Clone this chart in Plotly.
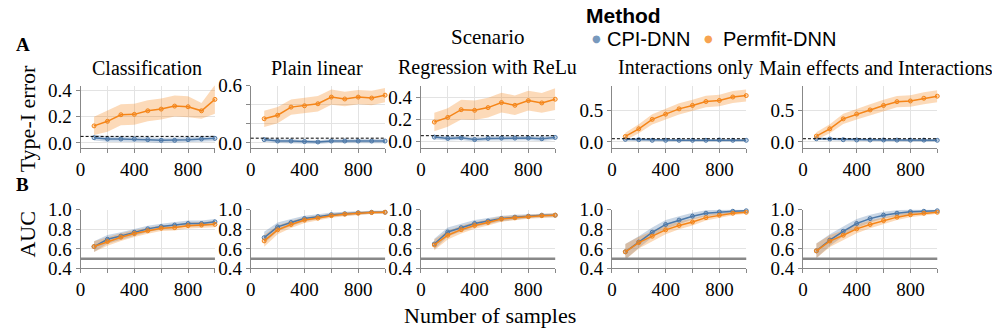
import plotly.graph_objects as go
from plotly.subplots import make_subplots

# ---------------------------------------------------------------- data
samples = [100, 200, 300, 400, 500, 600, 700, 800, 900, 1000]
scenarios = ["Classification", "Plain linear", "Regression with ReLu",
             "Interactions only", "Main effects and Interactions"]
methods = ["CPI-DNN", "Permfit-DNN"]
alpha_level = 0.05
auc_chance = 0.5

# Type-I error, mean per sample size
t1_cpi_classification = [0.040, 0.030, 0.030, 0.030, 0.025, 0.020, 0.020, 0.025, 0.030, 0.035]
t1_perm_classification = [0.130, 0.165, 0.215, 0.218, 0.245, 0.258, 0.281, 0.276, 0.245, 0.332]
t1_cpi_plain = [0.035, 0.020, 0.020, 0.015, 0.010, 0.020, 0.020, 0.020, 0.020, 0.020]
t1_perm_plain = [0.253, 0.290, 0.375, 0.389, 0.410, 0.480, 0.460, 0.480, 0.470, 0.500]
t1_cpi_relu = [0.037, 0.025, 0.030, 0.015, 0.025, 0.028, 0.028, 0.028, 0.022, 0.034]
t1_perm_relu = [0.175, 0.218, 0.289, 0.283, 0.308, 0.354, 0.329, 0.372, 0.351, 0.385]
t1_cpi_interactions = [0.040, 0.035, 0.025, 0.025, 0.025, 0.025, 0.025, 0.030, 0.025, 0.025]
t1_perm_interactions = [0.086, 0.207, 0.356, 0.439, 0.522, 0.577, 0.638, 0.655, 0.710, 0.732]
t1_cpi_main = [0.050, 0.045, 0.035, 0.030, 0.030, 0.030, 0.028, 0.028, 0.028, 0.025]
t1_perm_main = [0.092, 0.207, 0.364, 0.440, 0.505, 0.576, 0.636, 0.647, 0.690, 0.723]

# Type-I error, half-width of the confidence band
t1_cpi_hw = [0.022, 0.020, 0.020, 0.020, 0.020, 0.020, 0.020, 0.020, 0.020, 0.022]
t1_perm_classification_hw = [0.070, 0.080, 0.080, 0.080, 0.080, 0.080, 0.080, 0.080, 0.060, 0.110]
t1_perm_plain_hw = [0.085, 0.085, 0.080, 0.080, 0.080, 0.080, 0.075, 0.075, 0.075, 0.075]
t1_perm_relu_hw = [0.085, 0.085, 0.090, 0.090, 0.090, 0.090, 0.090, 0.090, 0.090, 0.100]
t1_perm_interactions_hw = [0.060, 0.070, 0.080, 0.085, 0.090, 0.090, 0.090, 0.090, 0.095, 0.095]
t1_perm_main_hw = [0.060, 0.070, 0.080, 0.085, 0.090, 0.090, 0.090, 0.090, 0.095, 0.095]

# AUC, mean per sample size
auc_cpi_classification = [0.624, 0.698, 0.731, 0.770, 0.805, 0.828, 0.844, 0.860, 0.860, 0.877]
auc_perm_classification = [0.624, 0.676, 0.720, 0.757, 0.786, 0.812, 0.818, 0.838, 0.844, 0.851]
auc_cpi_plain = [0.715, 0.825, 0.870, 0.910, 0.930, 0.950, 0.960, 0.970, 0.975, 0.975]
auc_perm_plain = [0.682, 0.795, 0.850, 0.895, 0.915, 0.940, 0.955, 0.965, 0.972, 0.975]
auc_cpi_relu = [0.650, 0.773, 0.817, 0.860, 0.885, 0.910, 0.925, 0.935, 0.945, 0.945]
auc_perm_relu = [0.640, 0.740, 0.797, 0.840, 0.870, 0.905, 0.918, 0.930, 0.940, 0.945]
auc_cpi_interactions = [0.570, 0.670, 0.770, 0.850, 0.895, 0.935, 0.965, 0.978, 0.985, 0.990]
auc_perm_interactions = [0.570, 0.665, 0.730, 0.795, 0.840, 0.875, 0.920, 0.945, 0.965, 0.975]
auc_cpi_main = [0.580, 0.690, 0.780, 0.860, 0.910, 0.945, 0.965, 0.980, 0.985, 0.990]
auc_perm_main = [0.580, 0.680, 0.740, 0.805, 0.850, 0.890, 0.925, 0.950, 0.965, 0.975]

# AUC, half-width of the confidence band
auc_classification_hw = [0.055, 0.045, 0.040, 0.035, 0.032, 0.030, 0.030, 0.030, 0.030, 0.030]
auc_plain_hw = [0.060, 0.045, 0.035, 0.030, 0.025, 0.022, 0.020, 0.018, 0.015, 0.015]
auc_relu_hw = [0.055, 0.045, 0.040, 0.035, 0.030, 0.028, 0.025, 0.022, 0.020, 0.020]
auc_interactions_hw = [0.080, 0.060, 0.050, 0.045, 0.040, 0.035, 0.030, 0.025, 0.020, 0.015]
auc_main_hw = [0.075, 0.060, 0.050, 0.045, 0.040, 0.035, 0.030, 0.025, 0.020, 0.015]

# y-axis ranges / ticks of the Type-I row
t1_ranges = [[-0.04, 0.437], [-0.055, 0.6], [-0.065, 0.51], [-0.1, 0.89], [-0.1, 0.89]]
t1_tickvals = [[0, 0.2, 0.4], [0, 0.2, 0.4, 0.6], [0, 0.2, 0.4], [0, 0.5], [0, 0.5]]
t1_ticktext = [["0.0", "0.2", "0.4"], ["0.0", "", "", "0.6"], ["0.0", "0.2", "0.4"],
               ["0.0", "0.5"], ["0.0", "0.5"]]
auc_tickvals = [0.4, 0.6, 0.8, 1.0]
x_tickvals = [0, 200, 400, 600, 800, 1000]
x_ticktext = ["0", "", "400", "", "800", ""]

# ---------------------------------------------------------------- assemble
type1 = [
    (t1_cpi_classification, t1_cpi_hw, t1_perm_classification, t1_perm_classification_hw),
    (t1_cpi_plain, t1_cpi_hw, t1_perm_plain, t1_perm_plain_hw),
    (t1_cpi_relu, t1_cpi_hw, t1_perm_relu, t1_perm_relu_hw),
    (t1_cpi_interactions, t1_cpi_hw, t1_perm_interactions, t1_perm_interactions_hw),
    (t1_cpi_main, t1_cpi_hw, t1_perm_main, t1_perm_main_hw),
]
auc = [
    (auc_cpi_classification, auc_classification_hw, auc_perm_classification, auc_classification_hw),
    (auc_cpi_plain, auc_plain_hw, auc_perm_plain, auc_plain_hw),
    (auc_cpi_relu, auc_relu_hw, auc_perm_relu, auc_relu_hw),
    (auc_cpi_interactions, auc_interactions_hw, auc_perm_interactions, auc_interactions_hw),
    (auc_cpi_main, auc_main_hw, auc_perm_main, auc_main_hw),
]

W, H = 992, 331
# vertical placement helpers (page offset / usable height of the plot div)
Y_OFF, Y_SPAN = 7.9, 312.0
SERIF = "Liberation Serif"
SANS = "Liberation Sans"
colors = {"CPI-DNN": (76, 120, 168), "Permfit-DNN": (245, 133, 24)}


def rgb(c, a=1.0):
    return f"rgba({c[0]},{c[1]},{c[2]},{a})"


def px_x(p):
    return p / W


def px_y(p):
    return 1 - (p - Y_OFF) / Y_SPAN


fig = make_subplots(rows=2, cols=5)


def add_band(row, col, mean, hw, method):
    c = colors[method]
    upper = [m + h for m, h in zip(mean, hw)]
    lower = [m - h for m, h in zip(mean, hw)]
    fig.add_trace(go.Scatter(
        x=samples + samples[::-1], y=upper + lower[::-1],
        fill="toself", fillcolor=rgb(c, 0.3), line=dict(width=0),
        mode="lines", hoverinfo="skip", showlegend=False), row=row, col=col)


def add_line(row, col, mean, method):
    c = colors[method]
    fig.add_trace(go.Scatter(
        x=samples, y=mean, mode="lines+markers", name=method, showlegend=False,
        line=dict(color=rgb(c), width=1.5),
        marker=dict(symbol="circle", size=4, color=rgb(c, 0.3),
                    line=dict(color=rgb(c), width=1)),
        cliponaxis=False), row=row, col=col)


for row, block in ((1, type1), (2, auc)):
    for j, (cpi, cpi_hw, perm, perm_hw) in enumerate(block):
        add_band(row, j + 1, cpi, cpi_hw, "CPI-DNN")
        add_band(row, j + 1, perm, perm_hw, "Permfit-DNN")
        if row == 1:
            fig.add_hline(y=alpha_level, line=dict(color="black", width=1, dash="3px,2px"),
                          row=row, col=j + 1)
        else:
            fig.add_hline(y=auc_chance, line=dict(color="#888888", width=2.5),
                          row=row, col=j + 1)
        add_line(row, j + 1, cpi, "CPI-DNN")
        add_line(row, j + 1, perm, "Permfit-DNN")

# ---------------------------------------------------------------- axes
col_px = [(76, 211), (247, 382), (418, 553), (610, 745), (802, 937)]
row_px = {1: (84, 147), 2: (209, 268)}

axis_common = dict(showline=True, linecolor="#888888", linewidth=1,
                   ticks="outside", ticklen=4, tickcolor="#888888",
                   gridcolor="#e3e3e3", gridwidth=1, zeroline=False,
                   tickfont=dict(family=SERIF, size=19, color="black"))

for row in (1, 2):
    for j in range(5):
        k = (row - 1) * 5 + j + 1
        xa = "xaxis" if k == 1 else f"xaxis{k}"
        ya = "yaxis" if k == 1 else f"yaxis{k}"
        x0, x1 = col_px[j]
        y0, y1 = row_px[row]
        fig.layout[xa].update(domain=[px_x(x0), px_x(x1)], range=[0, 1000],
                              tickmode="array", tickvals=x_tickvals,
                              ticktext=x_ticktext, **axis_common)
        if row == 1:
            yt = dict(range=t1_ranges[j], tickvals=t1_tickvals[j], ticktext=t1_ticktext[j])
        else:
            yt = dict(range=[0.4, 1.0], tickvals=auc_tickvals,
                      ticktext=[f"{v:.1f}" for v in auc_tickvals])
        fig.layout[ya].update(domain=[px_y(y1), px_y(y0)], tickmode="array", **yt,
                              **axis_common)

# ---------------------------------------------------------------- text
annotations = []


def text(s, x, y, size, family=SERIF, xanchor="center", yanchor="middle", angle=0):
    annotations.append(dict(text=s, x=px_x(x), y=px_y(y), xref="paper", yref="paper",
                            showarrow=False, xanchor=xanchor, yanchor=yanchor,
                            textangle=angle,
                            font=dict(family=family, size=size, color="black")))


title_centers = [143, 314, 485, 684, 875]
for s, cx in zip(scenarios, title_centers):
    text(s, cx, 66, 20)

text("Scenario", 485, 35, 21)
text("<b>A</b>", 18, 43, 19)
text("<b>B</b>", 18, 184, 19)
text("Type-I error", 23, 117, 22, angle=-90)
text("AUC", 23, 234, 22, angle=-90)
text("Number of samples", 487, 315, 22)
text("<b>Method</b>", 582, 13, 21, family=SANS, xanchor="left")

legend_pos = [(594, 603), (707, 720)]
for m, (mx, tx) in zip(methods, legend_pos):
    text(f'<span style="color:{rgb(colors[m], 0.75)}">●</span>', mx, 37, 10,
         family="DejaVu Sans")
    text(m, tx, 37, 20, family=SANS, xanchor="left")

fig.update_layout(
    width=W, height=H, margin=dict(l=0, r=0, t=0, b=0),
    paper_bgcolor="white", plot_bgcolor="white",
    annotations=annotations, showlegend=False,
)

fig.write_html("out.html")
